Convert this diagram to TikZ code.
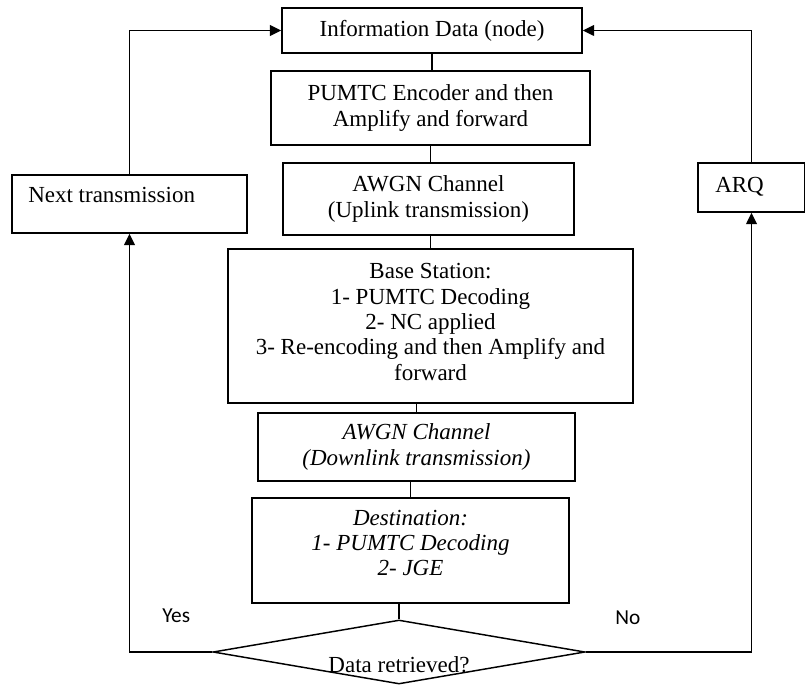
\documentclass[tikz,border=0pt]{standalone}
\usepackage{fontspec}
\setmainfont{Liberation Serif}
\newfontfamily\yesnofont{Carlito}
\usetikzlibrary{arrows.meta,shapes.geometric}
\begin{document}
\begin{tikzpicture}[x=0.75pt,y=-0.75pt,
  box/.style={draw, line width=1.1pt, inner sep=0pt, align=center, font=\fontsize{17.25}{19.1}\selectfont},
  lbl/.style={inner sep=0pt, align=center, font=\fontsize{17.25}{19.1}\selectfont},
  con/.style={line width=1.1pt},
  arr/.style={line width=1.1pt, -{Triangle[length=8.5pt,width=8pt]}},
  yn/.style={inner sep=0pt, font=\yesnofont\fontsize{16}{19}\selectfont}]
\useasboundingbox (0,0) rectangle (805,684);
% central column
\node[box, minimum width=225pt, minimum height=33.75pt] (info) at (432,30.5) {Information Data (node)};
\node[box, minimum width=239.25pt, minimum height=55.5pt] (enc) at (430.5,108) {PUMTC Encoder and then\\Amplify and forward};
\node[box, minimum width=218.25pt, minimum height=54pt] (awgnul) at (428.5,199) {AWGN Channel\\(Uplink transmission)};
\node[box, minimum width=303.75pt, minimum height=115.5pt] (base) at (430.5,326) {};
\node[lbl] (baset) at (430.5,322) {Base Station:\\1- PUMTC Decoding\\2- NC applied\\3- Re-encoding and then Amplify and\\forward};
\node[box, minimum width=237.75pt, minimum height=51pt, font=\fontsize{17.25}{19.1}\selectfont\itshape] (awgndl) at (416.5,447) {AWGN Channel\\(Downlink transmission)};
\node[box, minimum width=237.75pt, minimum height=78.75pt] (dest) at (410.5,550.5) {};
\node[lbl, font=\fontsize{17.25}{19.1}\selectfont\itshape] (destt) at (410.5,543) {Destination:\\1- PUMTC Decoding\\2- JGE};
\node[draw, line width=1.1pt, diamond, inner sep=0pt, aspect=5.8, minimum width=279pt, minimum height=48pt] (dia) at (399,652) {};
\node[lbl, anchor=base] (diat) at (399,672) {Data retrieved?};
% side boxes
\node[draw, line width=1.1pt, minimum width=176.25pt, minimum height=43.5pt] (next) at (129.5,204) {};
\node[lbl, anchor=base west] (nextt) at (28,203) {Next transmission};
\node[draw, line width=1.1pt, minimum width=80.25pt, minimum height=36.75pt] (arq) at (751.5,187.5) {};
\node[lbl, anchor=base west] (arqt) at (715,192) {ARQ};
% labels
\node[yn, anchor=base west] (yes) at (162,622) {Yes};
\node[yn, anchor=base west] (no) at (615,624) {No};
% connectors
\draw[con] (info.south) -- (info.south |- enc.north);
\draw[con] (enc.south) -- (enc.south |- awgnul.north);
\draw[con] (awgnul.south -| enc.south) -- (base.north -| enc.south);
\draw[con] (awgndl.north |- base.south) -- (awgndl.north);
\draw[con] (dest.north |- awgndl.south) -- (dest.north);
\draw[con] (dia.north |- dest.south) -- (dia.north);
% feedback arrows
\draw[arr] (next.north) |- (info.west);
\draw[arr] (arq.north) |- (info.east);
\draw[arr] (dia.west) -| (next.south);
\draw[arr] (dia.east) -| (arq.south);
\end{tikzpicture}
\end{document}
